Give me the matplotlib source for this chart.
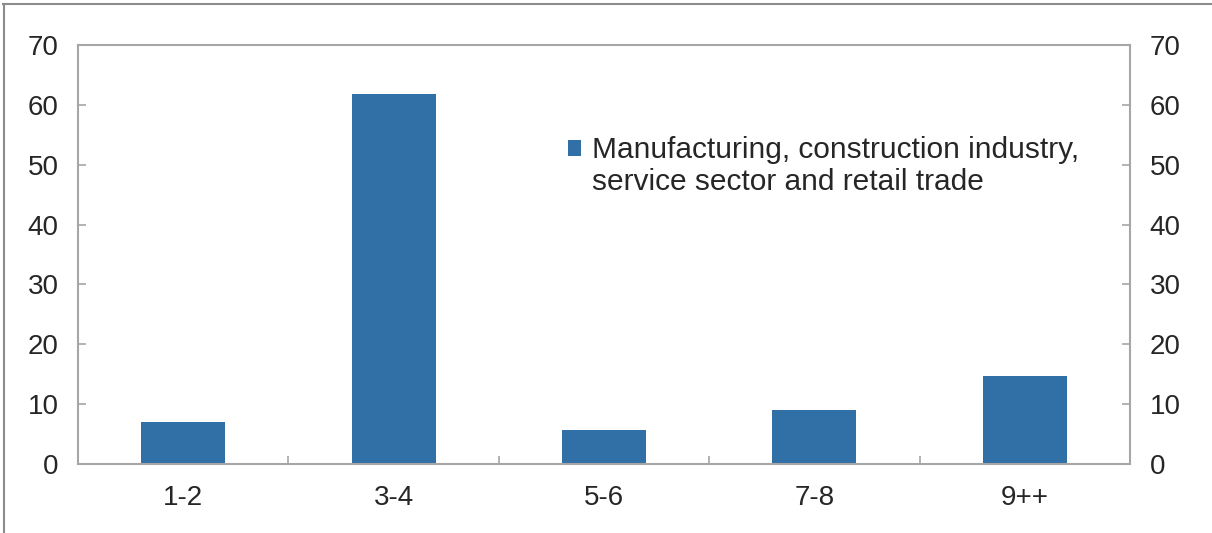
import matplotlib.pyplot as plt
from matplotlib.lines import Line2D
from matplotlib.patches import Rectangle
from matplotlib.container import BarContainer
from matplotlib.legend_handler import HandlerPatch, update_from_first_child

# Data
categories = ['1-2', '3-4', '5-6', '7-8', '9++']
values = [7.0, 61.8, 5.7, 9.0, 14.7]
series_label = 'Manufacturing, construction industry,\nservice sector and retail trade'

plt.rcParams['font.family'] = ['Liberation Sans', 'DejaVu Sans']

fig = plt.figure(figsize=(12.12, 5.33), dpi=100)
ax = fig.add_axes([78 / 1212, 1 - 464 / 533, 1052 / 1212, 419 / 533])

x = range(len(categories))
ax.bar(x, values, width=0.4, color='#3170a7', label=series_label, zorder=2)

ax.set_xlim(-0.5, len(categories) - 0.5)
ax.set_ylim(0, 70)
ax.set_yticks(range(0, 71, 10))
ax.set_xticks(x)
ax.set_xticklabels(categories)
ax.set_xticks([i + 0.5 for i in range(len(categories) - 1)], minor=True)

for s in ax.spines.values():
    s.set_color('#a6a6a6')
    s.set_linewidth(1.5)

ax.tick_params(axis='y', direction='in', length=6, width=1.2, color='#a6a6a6',
               left=True, right=True, labelleft=True, labelright=True,
               labelsize=20, labelcolor='#262626', pad=14)
ax.tick_params(axis='x', which='major', length=0, labelsize=20,
               labelcolor='#262626', pad=15)
ax.tick_params(axis='x', which='minor', direction='in', length=6, width=1.2,
               color='#a6a6a6')


# square marker aligned with the first line of the label
def top_square(legend, orig_handle, xdescent, ydescent, width, height, fontsize):
    return Rectangle((-xdescent, -ydescent + 0.62 * fontsize), width, height)


leg = ax.legend(loc='upper left', bbox_to_anchor=(568 / 1212, 1 - 136 / 533),
                bbox_transform=fig.transFigure, frameon=False, fontsize=21.5,
                handlelength=0.45, handleheight=0.45, handletextpad=0.35,
                borderpad=0, borderaxespad=0,
                handler_map={BarContainer: HandlerPatch(patch_func=top_square,
                                                        update_func=update_from_first_child)})
for t in leg.get_texts():
    t.set_color('#262626')
    t.set_linespacing(1.2)

# figure frame (top and left edges)
fig.add_artist(Line2D([3 / 1212, 1], [1 - 4 / 533, 1 - 4 / 533], color='#8c8c8c', lw=1.5))
fig.add_artist(Line2D([4 / 1212, 4 / 1212], [0, 1 - 4 / 533], color='#8c8c8c', lw=1.5))

fig.savefig('out.png', dpi=100)
